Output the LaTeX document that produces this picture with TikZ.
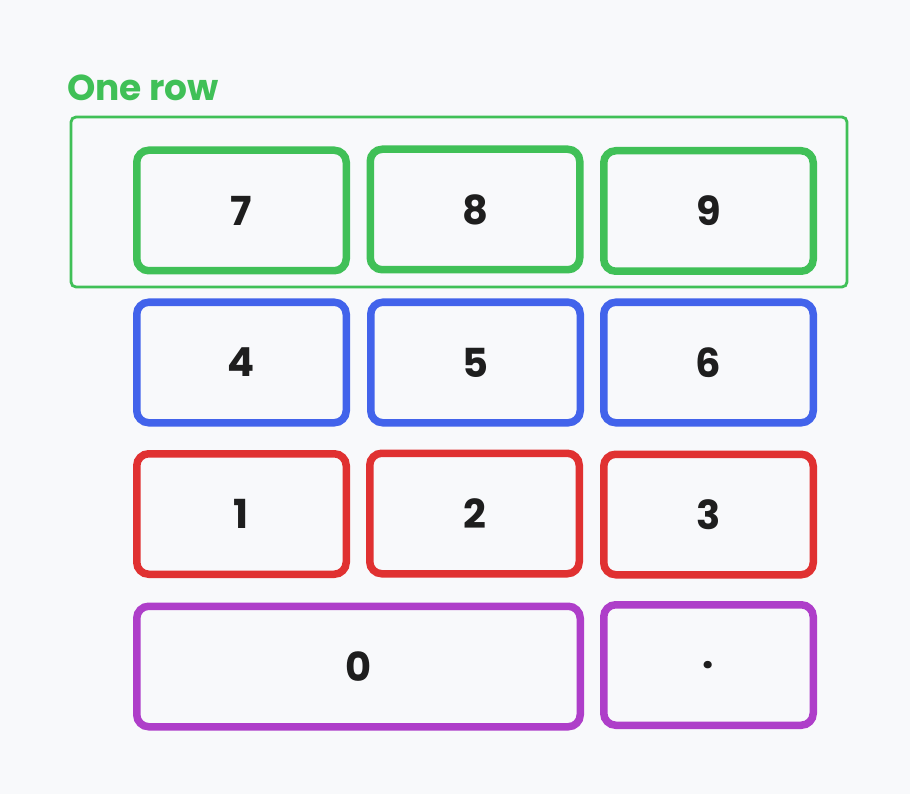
\documentclass[tikz,border=0pt]{standalone}
\usepackage{fontspec}
\setmainfont{Poppins}
\usepackage{xcolor}
\usepackage{tikz}
\usetikzlibrary{calc,positioning}

\definecolor{rowgreen}{HTML}{40C057}
\definecolor{rowblue}{HTML}{4263EB}
\definecolor{rowred}{HTML}{E03131}
\definecolor{rowpurple}{HTML}{AE3EC9}
\definecolor{paper}{HTML}{F8F9FB}
\definecolor{ink}{HTML}{1E1E1E}

\begin{document}
\begin{tikzpicture}[x=1pt,y=-1pt,
    key/.style={draw=#1,rectangle,line width=7.5pt,rounded corners=12pt,
      minimum width=209.5pt,minimum height=120.5pt,inner sep=0pt,
      text=ink,font=\fontsize{40}{40}\selectfont\bfseries},
    rowframe/.style={draw=rowgreen,line width=2.8pt,rounded corners=5pt}]
  \fill[paper] (0,0) rectangle (910,794);
  \useasboundingbox (0,0) rectangle (910,794);
  % the highlighted row
  \draw[rowframe] (71,117) rectangle (847,287);
  \node at (67,88) (lbl) [anchor=west,text=rowgreen,inner sep=0pt,
    font=\fontsize{36}{36}\selectfont\bfseries] {One row};
  % keys
  \node at (241.5,210.5) (k7) [key=rowgreen] {7};
  \node at (475,209.5) (k8) [key=rowgreen] {8};
  \node at (708.5,211) (k9) [key=rowgreen] {9};
  \node at (241.5,362.5) (k4) [key=rowblue] {4};
  \node at (475.5,362.5) (k5) [key=rowblue] {5};
  \node at (708.5,362.5) (k6) [key=rowblue] {6};
  \node at (241.5,514) (k1) [key=rowred] {1};
  \node at (474.5,513.5) (k2) [key=rowred] {2};
  \node at (708.5,514.5) (k3) [key=rowred] {3};
  \node at (358.5,666.5) (k0) [key=rowpurple,minimum width=443.5pt] {0};
  \node at (708.5,665) (kdot) [key=rowpurple] {.};
\end{tikzpicture}
\end{document}
